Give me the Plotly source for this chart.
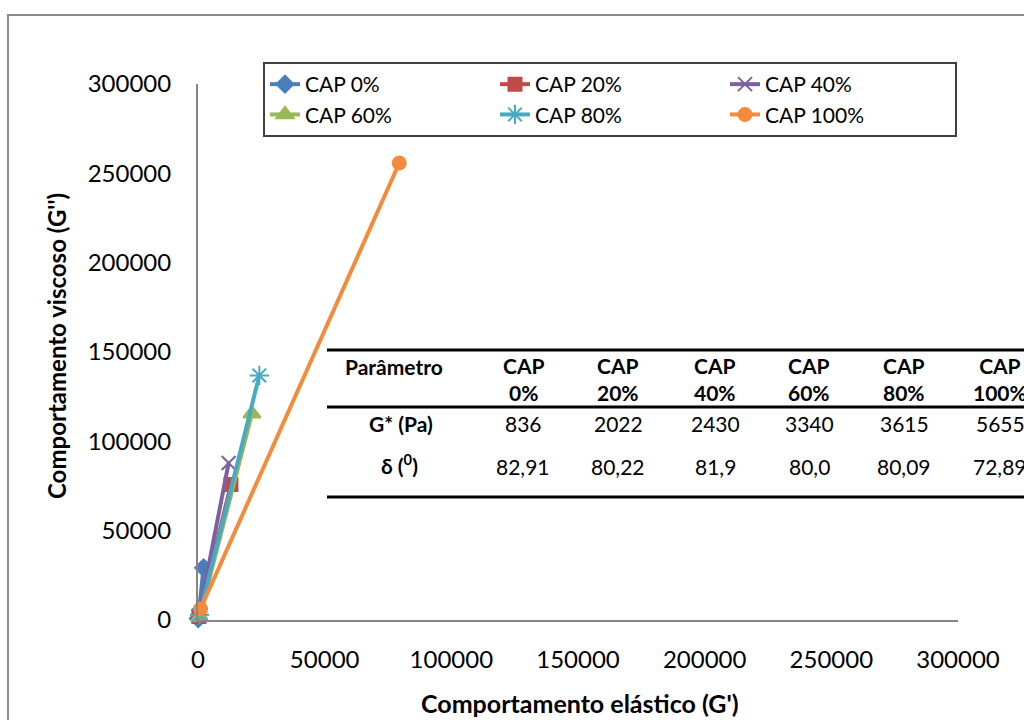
import plotly.graph_objects as go

# Series: G' (elastic) and G'' (viscous), two readings per binder blend
series_names = ["CAP 0%", "CAP 20%", "CAP 40%", "CAP 60%", "CAP 80%", "CAP 100%"]
g_elastic = [
    [100, 2200],
    [340, 13000],
    [340, 12100],
    [580, 21300],
    [620, 24200],
    [1000, 79450],
]
g_viscous = [
    [800, 29200],
    [2000, 75800],
    [2400, 87900],
    [1500, 115500],
    [3000, 136900],
    [6200, 255800],
]
colors = ["#4A7EBB", "#BE4B48", "#7D60A0", "#98B954", "#46AAC5", "#F38B3C"]
symbols = ["diamond", "square", "x-thin-open", "triangle-up", "asterisk-open", "circle"]
marker_sizes = [13, 13, 14, 15, 16, 13]

# Summary table
table_header = ["Parâmetro", "CAP<br>0%", "CAP<br>20%", "CAP<br>40%", "CAP<br>60%", "CAP<br>80%", "CAP<br>100%"]
table_row_labels = ["G* (Pa)", "δ (<sup>0</sup>)"]
g_star = ["836", "2022", "2430", "3340", "3615", "5655"]
delta = ["82,91", "80,22", "81,9", "80,0", "80,09", "72,89"]

x_ticks = [0, 50000, 100000, 150000, 200000, 250000, 300000]
y_ticks = [0, 50000, 100000, 150000, 200000, 250000, 300000]

FONT = "Lato"
W, H = 1024, 720
L, R, T, B = 198, 66, 84, 100
PW, PH = W - L - R, H - T - B


def px(xp):
    return (xp - L) / PW


def py(yp):
    return (H - B - yp) / PH


fig = go.Figure()
for i, name in enumerate(series_names):
    fig.add_trace(go.Scatter(
        x=g_elastic[i], y=g_viscous[i], name=name, mode="lines+markers",
        line=dict(color=colors[i], width=4),
        marker=dict(symbol=symbols[i], size=marker_sizes[i], color=colors[i],
                    line=dict(color=colors[i], width=2)),
        cliponaxis=False,
    ))

axis_common = dict(
    range=[0, 300000], showgrid=False, zeroline=False, showline=True,
    linecolor="#868686", linewidth=2, ticks="", tickfont=dict(family=FONT, size=24, color="#000"),
    tickformat="d",
)
fig.update_xaxes(tickvals=x_ticks, ticklabelstandoff=17, **axis_common)
fig.update_yaxes(tickvals=y_ticks, ticklabelstandoff=20, **axis_common)

annotations = [
    dict(text="<b>Comportamento elástico (G')</b>", x=px(580), y=py(703),
         font=dict(family=FONT, size=25, color="#000")),
    dict(text="<b>Comportamento viscoso (G'')</b>", x=px(56), y=py(346), textangle=-90,
         font=dict(family=FONT, size=24, color="#000")),
]

# table text
tfont = dict(family=FONT, size=21, color="#000")
col_x = [523, 618, 715, 809, 904, 1000]
annotations.append(dict(text="<b>" + table_header[0] + "</b>", x=px(343), y=py(366), xanchor="left",
                        font=tfont))
for j, cx in enumerate(col_x):
    annotations.append(dict(text="<b>" + table_header[j + 1] + "</b>", x=px(cx), y=py(379),
                            font=tfont, align="center"))
    annotations.append(dict(text=g_star[j], x=px(cx), y=py(423), font=tfont))
    annotations.append(dict(text=delta[j], x=px(cx), y=py(466), font=tfont))
annotations.append(dict(text="<b>" + table_row_labels[0] + "</b>", x=px(401), y=py(423), font=tfont))
annotations.append(dict(text="<b>" + table_row_labels[1] + "</b>", x=px(399), y=py(464), font=tfont))
for a in annotations:
    a.setdefault("xref", "paper")
    a.setdefault("yref", "paper")
    a.setdefault("xanchor", "center")
    a.setdefault("yanchor", "middle")
    a.setdefault("showarrow", False)

shapes = [
    # outer chart frame
    dict(type="rect", xref="paper", yref="paper", x0=px(8), x1=px(1040), y0=py(740), y1=py(15),
         line=dict(color="#8C8C8C", width=2), layer="below"),
]
for yl in (350, 407, 497):
    shapes.append(dict(type="line", xref="paper", yref="paper", x0=px(327), x1=px(1040),
                       y0=py(yl), y1=py(yl), line=dict(color="#000", width=3)))

fig.update_layout(
    width=W, height=H, margin=dict(l=L, r=R, t=T, b=B),
    paper_bgcolor="white", plot_bgcolor="white",
    font=dict(family=FONT, color="#000"),
    annotations=annotations, shapes=shapes,
    legend=dict(orientation="h", x=px(263), y=py(62), xanchor="left", yanchor="top",
                bordercolor="#404040", borderwidth=2, bgcolor="white",
                entrywidth=185, entrywidthmode="pixels", tracegroupgap=0,
                font=dict(family=FONT, size=21, color="#000")),
)

fig.write_html("out.html")
